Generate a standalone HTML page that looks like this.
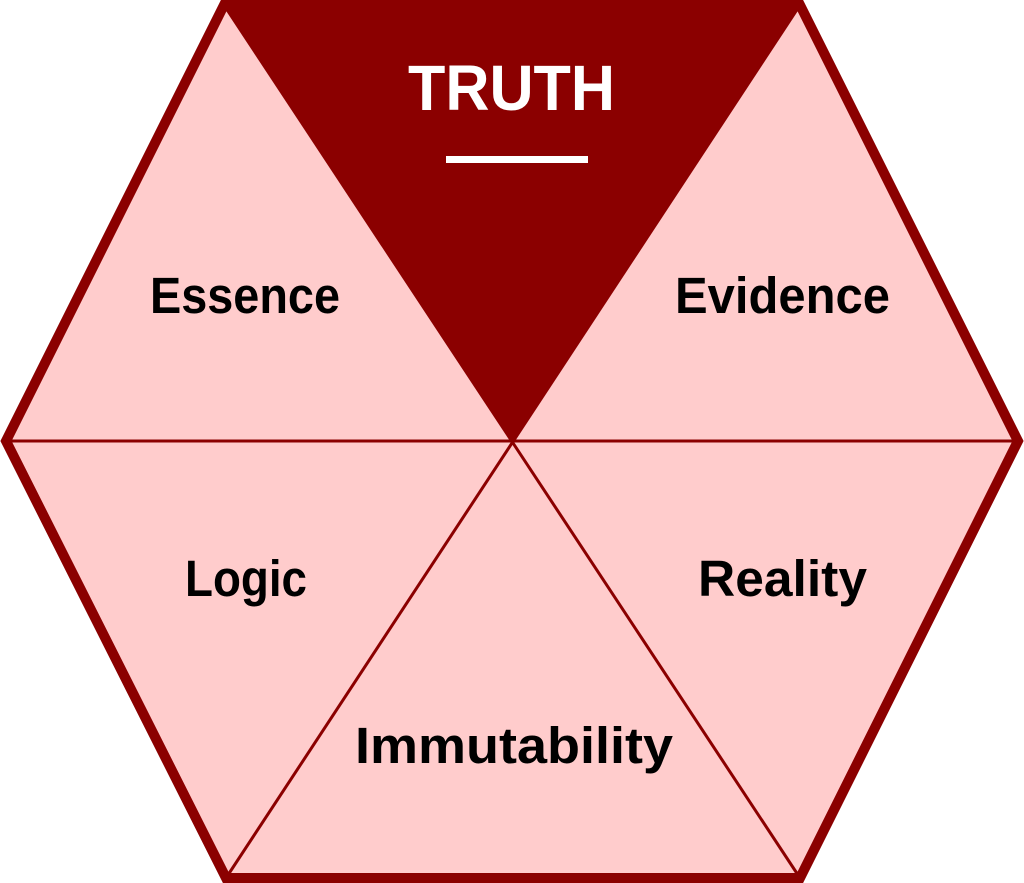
<!DOCTYPE html>
<html><head><style>html,body{margin:0;padding:0;background:#fff}svg{display:block}</style></head>
<body>
<svg width="1024" height="883" viewBox="0 0 1024 883" xmlns="http://www.w3.org/2000/svg">
<polygon points="224,5 800,5 1018,441 800,878 226,878 6,441" fill="#FFCCCC"/>
<polygon points="224,5 800,5 512,441" fill="#8B0000"/>
<g stroke="#8B0000" stroke-width="3" fill="none">
<line x1="6" y1="441" x2="1018" y2="441"/>
<line x1="224" y1="5" x2="800" y2="878"/>
<line x1="800" y1="5" x2="226" y2="878"/>
</g>
<polygon points="224,5 800,5 1018,441 800,878 226,878 6,441" fill="none" stroke="#8B0000" stroke-width="10" stroke-linejoin="miter"/>
<rect x="446" y="156" width="142" height="7" fill="#fff"/>
<g font-family="Liberation Sans, sans-serif" font-weight="bold">
<text x="408" y="110" font-size="64" fill="#fff" textLength="207" lengthAdjust="spacingAndGlyphs">TRUTH</text>
<text x="150" y="313" font-size="51" fill="#000" textLength="190" lengthAdjust="spacingAndGlyphs">Essence</text>
<text x="675" y="313" font-size="51" fill="#000" textLength="215" lengthAdjust="spacingAndGlyphs">Evidence</text>
<text x="185" y="596" font-size="51" fill="#000" textLength="122" lengthAdjust="spacingAndGlyphs">Logic</text>
<text x="698" y="596" font-size="51" fill="#000" textLength="169" lengthAdjust="spacingAndGlyphs">Reality</text>
<text x="355" y="763" font-size="51" fill="#000" textLength="318" lengthAdjust="spacingAndGlyphs">Immutability</text>
</g>
</svg>
</body></html>
